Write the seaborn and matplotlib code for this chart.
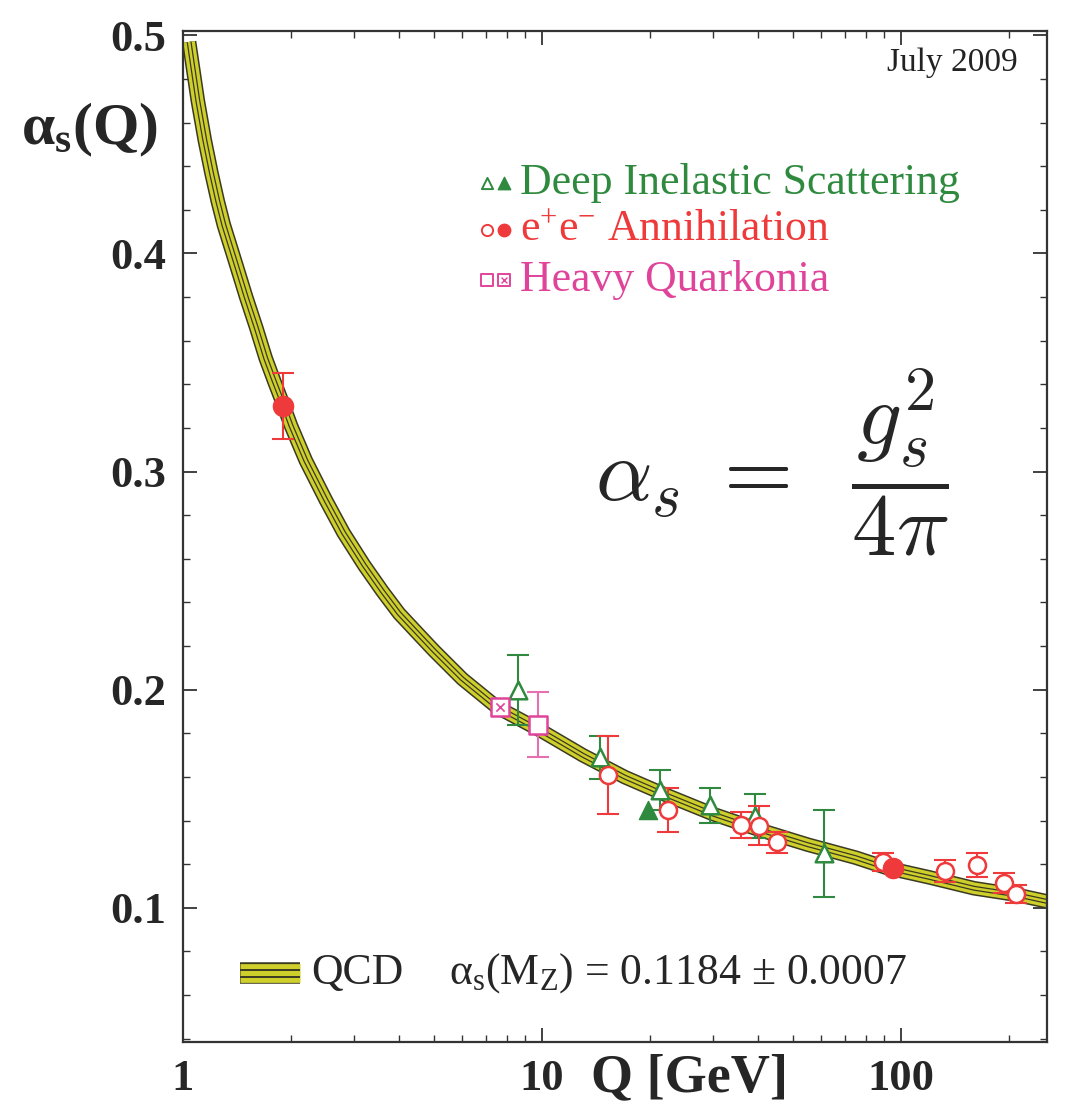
import numpy as np
import seaborn as sns
import matplotlib.pyplot as plt
from matplotlib.ticker import LogLocator, MultipleLocator, NullFormatter
from matplotlib.lines import Line2D

# QCD running coupling band
qcd_q = [1.04, 1.1, 1.15, 1.2, 1.25, 1.3, 1.4, 1.5, 1.6, 1.7, 1.8, 1.9, 2.0, 2.2, 2.5,
         2.8, 3.2, 3.6, 4.0, 4.5, 5.0, 6.0, 7.5, 10, 13, 17, 22, 30, 40, 55, 75,
         91.2, 120, 160, 210, 255]
qcd_alpha = [0.497, 0.470, 0.452, 0.437, 0.424, 0.413, 0.396, 0.380, 0.366, 0.352,
             0.341, 0.331, 0.321, 0.305, 0.287, 0.272, 0.257, 0.245, 0.235, 0.226,
             0.218, 0.205, 0.192, 0.181, 0.170, 0.160, 0.152, 0.143, 0.136, 0.129,
             0.123, 0.1184, 0.114, 0.109, 0.106, 0.103]

# Deep inelastic scattering
dis_q = [8.6, 14.5, 21.3, 29.4, 39.2, 61.3]
dis_alpha = [0.200, 0.169, 0.154, 0.147, 0.142, 0.125]
dis_err = [0.016, 0.010, 0.009, 0.008, 0.010, 0.020]
dis_filled_q = [19.7]
dis_filled_alpha = [0.145]

# e+e- annihilation
ee_q = [15.3, 22.4, 35.8, 40.2, 45.2, 89.0, 133, 163, 194, 210]
ee_alpha = [0.161, 0.145, 0.138, 0.1376, 0.130, 0.121, 0.117, 0.1197, 0.1115, 0.1064]
ee_err = [0.018, 0.010, 0.006, 0.009, 0.005, 0.004, 0.005, 0.0055, 0.0045, 0.004]
ee_filled_q = [1.9, 95]
ee_filled_alpha = [0.330, 0.1183]
ee_filled_err = [0.015, 0.0]

# heavy quarkonia
hq_q = [9.75]
hq_alpha = [0.184]
hq_err = [0.015]
hq_crossed_q = [7.64]
hq_crossed_alpha = [0.192]

x_ticks = [1, 10, 100]
x_ticklabels = ['1', '10', '100']
y_ticks = [0.1, 0.2, 0.3, 0.4, 0.5]
y_ticklabels = ['0.1', '0.2', '0.3', '0.4', '0.5']

GREEN = '#2f8a3f'
RED = '#ee3a3a'
PINK = '#e0449a'
PINK_BAR = '#e66fb0'
YELLOW = '#cfcf2c'
DARK = '#3a3a22'

sns.set_style('ticks')
plt.rcParams['font.family'] = ['Liberation Serif', 'DejaVu Serif']
plt.rcParams['mathtext.fontset'] = 'custom'
plt.rcParams['mathtext.rm'] = 'Liberation Serif'
plt.rcParams['mathtext.it'] = 'Liberation Serif:italic'
plt.rcParams['mathtext.bf'] = 'Liberation Serif:bold'

fig = plt.figure(figsize=(10.67, 11.07), dpi=100)
ax = fig.add_axes([0.1715, 0.0587, 0.8094, 0.9133])
ax.set_xscale('log')

# band: stacked lines give the dark-edged striped look
for lw, col in [(10.5, DARK), (8.3, YELLOW), (3.6, DARK), (1.8, YELLOW)]:
    sns.lineplot(x=qcd_q, y=qcd_alpha, color=col, lw=lw, ax=ax, zorder=2,
                 solid_capstyle='butt', sort=False)

# error bars
bar_kw = dict(fmt='none', elinewidth=1.5, capsize=8, capthick=1.5, zorder=3)
ax.errorbar(dis_q, dis_alpha, yerr=dis_err, ecolor=GREEN, **bar_kw)
ax.errorbar(ee_q, ee_alpha, yerr=ee_err, ecolor=RED, **bar_kw)
ax.errorbar(ee_filled_q, ee_filled_alpha, yerr=ee_filled_err, ecolor=RED, **bar_kw)
ax.errorbar(hq_q, hq_alpha, yerr=hq_err, ecolor=PINK_BAR, **bar_kw)

# markers
sns.scatterplot(x=dis_q, y=dis_alpha, marker='^', s=160, color=GREEN, facecolor='white',
                edgecolor=GREEN, linewidth=1.8, ax=ax, zorder=5)
sns.scatterplot(x=dis_filled_q, y=dis_filled_alpha, marker='^', s=170, color=GREEN,
                edgecolor=GREEN, linewidth=1, ax=ax, zorder=5)
sns.scatterplot(x=ee_q, y=ee_alpha, marker='o', s=150, color=RED, facecolor='white',
                edgecolor=RED, linewidth=1.8, ax=ax, zorder=5)
sns.scatterplot(x=ee_filled_q, y=ee_filled_alpha, marker='o', s=210, color=RED,
                edgecolor=RED, linewidth=1, ax=ax, zorder=5)
sns.scatterplot(x=hq_q, y=hq_alpha, marker='s', s=150, color=PINK, facecolor='white',
                edgecolor=PINK, linewidth=1.8, ax=ax, zorder=5)
sns.scatterplot(x=hq_crossed_q, y=hq_crossed_alpha, marker='s', s=150, color=PINK,
                facecolor='white', edgecolor=PINK, linewidth=1.8, ax=ax, zorder=5)
sns.scatterplot(x=hq_crossed_q, y=hq_crossed_alpha, marker='x', s=35, color=PINK,
                linewidth=1.2, ax=ax, zorder=6)

# axes
ax.set_xlim(1, 255)
ax.set_ylim(0.0385, 0.502)
ax.set_xticks(x_ticks)
ax.set_xticklabels(x_ticklabels, fontsize=32, fontweight='bold')
ax.xaxis.set_minor_locator(LogLocator(base=10, subs=np.arange(2, 10)))
ax.xaxis.set_minor_formatter(NullFormatter())
ax.set_yticks(y_ticks)
ax.set_yticklabels(y_ticklabels, fontsize=32, fontweight='bold')
ax.yaxis.set_minor_locator(MultipleLocator(0.02))
ax.tick_params(which='both', direction='in', top=True, right=True, color='#333333')
ax.tick_params(which='major', length=10, width=1.3)
ax.tick_params(which='minor', length=5, width=1.0)
ax.tick_params(axis='x', which='major', pad=12)
ax.tick_params(axis='y', which='major', pad=12)
for sp in ax.spines.values():
    sp.set_linewidth(1.6)
    sp.set_color('#333333')

ax.set_xlabel('Q [GeV]', fontsize=39, fontweight='bold')
ax.xaxis.set_label_coords(0.587, -0.036)
ax.xaxis.label.set_va('center')
ax.set_ylabel('')
ax.text(-0.108, 0.902, r'α$_\mathbf{s}$(Q)', transform=ax.transAxes, fontsize=43,
        fontweight='bold', ha='center', va='center')

ax.text(0.966, 0.969, 'July 2009', transform=ax.transAxes, fontsize=24,
        ha='right', va='center', color='#222222')

# custom legend at upper right
leg_rows = [
    ('^', GREEN, 'Deep Inelastic Scattering', 0.8497),
    ('o', RED, r'e$^{+}$e$^{-}$ Annihilation', 0.803),
    ('s', PINK, 'Heavy Quarkonia', 0.754),
]
for mk, col, label, yy in leg_rows:
    ax.scatter([0.352], [yy], marker=mk, s=65, facecolor='white', edgecolor=col,
               linewidth=1.4, transform=ax.transAxes, zorder=6)
    if mk == 's':
        ax.scatter([0.372], [yy], marker='s', s=65, facecolor='white', edgecolor=col,
                   linewidth=1.4, transform=ax.transAxes, zorder=6)
        ax.scatter([0.372], [yy], marker='x', s=18, color=col, linewidth=1.0,
                   transform=ax.transAxes, zorder=7)
    else:
        ax.scatter([0.372], [yy], marker=mk, s=80, color=col, transform=ax.transAxes,
                   zorder=6)
    ax.text(0.390, yy, label, transform=ax.transAxes, fontsize=31.5, color=col,
            ha='left', va='center')

# bottom legend: QCD band swatch (three yellow stripes with dark lines)
sw_x = [0.0660, 0.1354]
sw_y = 0.068
px = 1.0 / 1011
ax.add_line(Line2D(sw_x, [sw_y, sw_y], color=DARK, lw=15.5, transform=ax.transAxes,
                   solid_capstyle='butt', zorder=6))
ax.add_line(Line2D(sw_x, [sw_y, sw_y], color=YELLOW, lw=13.5, transform=ax.transAxes,
                   solid_capstyle='butt', zorder=6))
for off in (-3.5 * px, 3.5 * px):
    ax.add_line(Line2D(sw_x, [sw_y + off, sw_y + off], color=DARK, lw=1.4,
                       transform=ax.transAxes, solid_capstyle='butt', zorder=7))
ax.text(0.148, sw_y, 'QCD', transform=ax.transAxes, fontsize=31.5, ha='left',
        va='center')
ax.text(0.308, sw_y, r'α$_\mathregular{s}$(M$_\mathregular{Z}$) = 0.1184 ± 0.0007',
        transform=ax.transAxes, fontsize=31.5, ha='left', va='center')

# big formula
ax.text(0.477, 0.574, r'$\alpha_s\;=\;\;\dfrac{g_s^2}{4\pi}$', transform=ax.transAxes,
        fontsize=64, math_fontfamily='cm', ha='left', va='center')

fig.savefig('out.png', dpi=100)
